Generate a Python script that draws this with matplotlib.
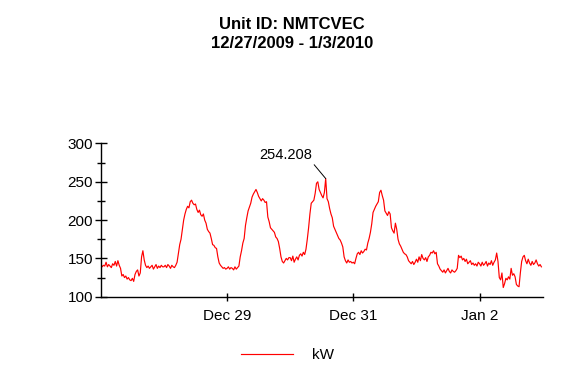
import numpy as np
import pandas as pd
import matplotlib
matplotlib.use("Agg")
import matplotlib.pyplot as plt
import matplotlib.dates as mdates
from matplotlib.ticker import MultipleLocator, FuncFormatter

# half-hourly kW readings, one list per day
dec27 = [143, 139, 141, 140, 145, 139, 142, 140, 138, 143, 141, 146,
         140, 147, 141, 137, 127, 129, 125, 127, 123, 125, 122, 121,
         124, 120, 129, 133, 135, 127, 131, 152, 160, 148, 141, 138,
         140, 137, 139, 141, 136, 139, 142, 137, 140, 138, 141, 139]
dec28 = [139, 141, 138, 142, 140, 137, 141, 139, 138, 141, 145, 157,
         168, 175, 188, 200, 208, 214, 218, 216, 224, 226, 222, 220,
         221, 214, 210, 213, 207, 205, 208, 200, 196, 188, 185, 183,
         176, 168, 167, 164, 163, 152, 144, 141, 139, 137, 138, 136]
dec29 = [137, 139, 136, 138, 137, 135, 139, 136, 138, 140, 152, 160,
         170, 176, 193, 203, 212, 217, 222, 230, 234, 237, 240, 236,
         231, 228, 225, 228, 226, 223, 224, 204, 198, 190, 188, 186,
         184, 178, 176, 172, 163, 152, 146, 144, 147, 150, 148, 151]
dec30 = [151, 147, 153, 145, 149, 152, 148, 154, 156, 153, 158, 155,
         162, 175, 190, 208, 222, 224, 226, 235, 248, 250, 240, 236,
         232, 229, 236, 254.208, 228, 224, 215, 208, 203, 192, 188, 184,
         180, 176, 174, 170, 165, 152, 147, 144, 148, 145, 146, 144]
dec31 = [145, 143, 150, 156, 158, 155, 160, 157, 159, 162, 161, 170,
         176, 184, 195, 210, 214, 218, 221, 224, 236, 239, 232, 226,
         212, 209, 206, 211, 208, 190, 186, 183, 196, 188, 175, 169,
         166, 162, 158, 156, 155, 152, 147, 145, 143, 146, 142, 145]
jan01 = [149, 145, 152, 147, 155, 150, 148, 151, 146, 152, 154, 158,
         157, 160, 156, 158, 143, 140, 136, 134, 132, 135, 131, 134,
         137, 133, 131, 135, 133, 132, 134, 137, 154, 151, 153, 148,
         150, 146, 149, 143, 145, 147, 142, 144, 141, 143, 140, 145]
jan02 = [143, 140, 145, 141, 143, 146, 140, 144, 142, 147, 141, 145,
         148, 157, 146, 125, 122, 131, 112, 117, 124, 122, 126, 123,
         137, 128, 130, 126, 116, 114, 113, 131, 146, 152, 154, 147,
         143, 149, 144, 141, 146, 142, 144, 148, 143, 140, 142, 139]

kw = np.array(dec27 + dec28 + dec29 + dec30 + dec31 + jan01 + jan02)
times = pd.date_range("2009-12-27 00:00", periods=len(kw), freq="30min")

title_lines = ["Unit ID: NMTCVEC", "12/27/2009 - 1/3/2010"]
tick_dates = pd.to_datetime(["2009-12-29", "2009-12-31", "2010-01-02"])

plt.rcParams["font.family"] = ["Liberation Sans", "DejaVu Sans"]

fig = plt.figure(figsize=(5.8, 3.8), dpi=100)
ax = fig.add_axes([0.1738, 0.2192, 0.9357 - 0.1738, 0.6224 - 0.2192])

ax.plot(times, kw, color="#ff0000", lw=0.85, label="kW")

ax.set_xlim(pd.Timestamp("2009-12-27"), pd.Timestamp("2010-01-03"))
ax.set_ylim(100, 300)
ax.yaxis.set_major_locator(MultipleLocator(50))
ax.yaxis.set_minor_locator(MultipleLocator(25))
ax.set_xticks(mdates.date2num(tick_dates))
ax.xaxis.set_major_formatter(FuncFormatter(
    lambda v, p: f"{mdates.num2date(v):%b} {mdates.num2date(v).day}"))

for s in ("top", "right"):
    ax.spines[s].set_visible(False)
ax.spines["left"].set_linewidth(1.0)
ax.spines["bottom"].set_linewidth(1.0)
ax.tick_params(axis="y", which="major", direction="inout", length=9, width=1, labelsize=11, pad=1)
ax.tick_params(axis="y", which="minor", direction="inout", length=6, width=1)
ax.tick_params(axis="x", which="major", direction="inout", length=6, width=1, labelsize=11, pad=6)

# peak label
i_max = int(np.argmax(kw))
ax.annotate(f"{kw[i_max]:.3f}", xy=(times[i_max], kw[i_max]),
            xytext=(-29, 17), textcoords="offset points",
            ha="center", va="center", fontsize=10.5,
            arrowprops=dict(arrowstyle="-", color="black", lw=0.7,
                            shrinkA=0, shrinkB=0, relpos=(1.0, 0.0)))

fig.text(0.503, 1 - 24.7 / 380, title_lines[0], ha="center", va="center",
         fontsize=12, fontweight="bold")
fig.text(0.503, 1 - 43.7 / 380, title_lines[1], ha="center", va="center",
         fontsize=12, fontweight="bold")

fig.legend(loc="center", bbox_to_anchor=(0.4957, 0.0645), frameon=False,
           fontsize=11, handlelength=3.4, handletextpad=1.3)

fig.savefig("out.png", dpi=100)
